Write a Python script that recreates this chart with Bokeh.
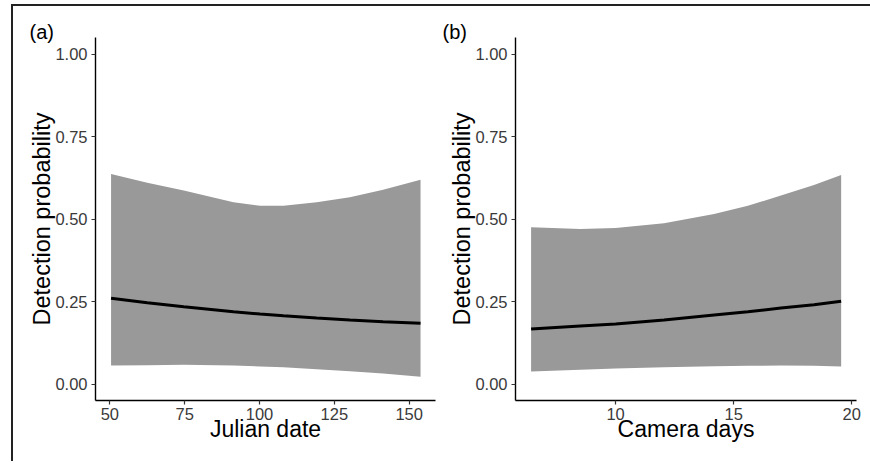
from bokeh.plotting import figure
from bokeh.layouts import row
from bokeh.models import Range1d, FixedTicker, NumeralTickFormatter, Title
from bokeh.embed import file_html
from bokeh.resources import INLINE

# Panel (a): Julian date
julian_x = [50.4, 62.5, 74.7, 91.3, 100.2, 108.0, 119.1, 130.2, 141.3, 153.8]
julian_upper = [0.636, 0.610, 0.586, 0.551, 0.540, 0.540, 0.551, 0.566, 0.589, 0.619]
julian_lower = [0.056, 0.057, 0.058, 0.056, 0.053, 0.051, 0.045, 0.039, 0.032, 0.022]
julian_mean = [0.260, 0.246, 0.234, 0.219, 0.212, 0.207, 0.200, 0.194, 0.189, 0.184]
julian_ticks = [50, 75, 100, 125, 150]

# Panel (b): Camera days
camera_x = [6.42, 8.5, 10.0, 12.05, 14.17, 15.6, 17.0, 18.4, 19.55]
camera_upper = [0.475, 0.470, 0.473, 0.487, 0.515, 0.540, 0.571, 0.603, 0.633]
camera_lower = [0.038, 0.043, 0.047, 0.051, 0.054, 0.055, 0.056, 0.055, 0.053]
camera_mean = [0.167, 0.176, 0.182, 0.194, 0.209, 0.219, 0.230, 0.240, 0.251]
camera_ticks = [10, 15, 20]

y_ticks = [0.0, 0.25, 0.5, 0.75, 1.0]

FONT = "Liberation Sans"
H = 455
TOP = 31


def make_panel(xs, upper, lower, mean, xticks, xrange, xlabel, tag,
               width, border_left, border_right, tag_offset):
    p = figure(width=width, height=H, output_backend="svg",
               toolbar_location=None,
               x_range=Range1d(*xrange), y_range=Range1d(-0.05, 1.05),
               min_border_left=border_left, min_border_right=border_right,
               min_border_top=TOP, min_border_bottom=H - TOP - 363)
    p.outline_line_color = None
    p.background_fill_color = "white"
    p.border_fill_color = "white"
    p.grid.grid_line_color = None

    p.varea(x=xs, y1=lower, y2=upper, fill_color="#999999", fill_alpha=1.0)
    p.line(x=xs, y=mean, line_color="black", line_width=3)

    for ax in (p.xaxis[0], p.yaxis[0]):
        ax.axis_line_color = "black"
        ax.axis_line_width = 1.4
        ax.major_tick_line_color = "#333333"
        ax.major_tick_line_width = 1.2
        ax.major_tick_out = 4
        ax.major_tick_in = 0
        ax.minor_tick_line_color = None
        ax.major_label_text_font = FONT
        ax.major_label_text_font_size = "16.5px"
        ax.major_label_text_color = "#3a3a3a"
        ax.axis_label_text_font = FONT
        ax.axis_label_text_font_style = "normal"
        ax.axis_label_text_color = "black"

    p.xaxis.axis_label_text_font_size = "23px"
    p.yaxis.axis_label_text_font_size = "23.5px"
    p.xaxis.ticker = FixedTicker(ticks=xticks)
    p.yaxis.ticker = FixedTicker(ticks=y_ticks)
    p.yaxis.formatter = NumeralTickFormatter(format="0.00")
    p.xaxis.axis_label = xlabel
    p.yaxis.axis_label = "Detection probability"
    p.xaxis.major_label_standoff = 3
    p.yaxis.major_label_standoff = 4
    p.xaxis.axis_label_standoff = -7
    p.yaxis.axis_label_standoff = -3

    p.add_layout(Title(text=tag, align="left", offset=tag_offset, standoff=-10,
                       text_font=FONT, text_font_size="20px",
                       text_font_style="normal", text_color="black"), "above")
    return p


p1 = make_panel(julian_x, julian_upper, julian_lower, julian_mean,
                julian_ticks, (45.2, 158.8), "Julian date", "(a)",
                423, 82, 1, -66)
p2 = make_panel(camera_x, camera_upper, camera_lower, camera_mean,
                camera_ticks, (5.76, 20.2), "Camera days", "(b)",
                434, 79, 14, -73)

layout = row(p1, p2, styles={"margin-left": "11px", "margin-top": "4px",
                             "border-top": "2px solid #222222",
                             "border-left": "2px solid #222222"})

open("out.html", "w").write(file_html(layout, INLINE))
